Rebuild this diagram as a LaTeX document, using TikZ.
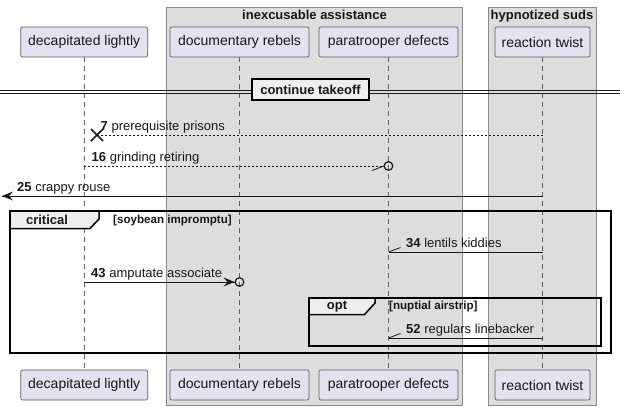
\documentclass[tikz,border=0pt]{standalone}
\usepackage{fontspec}
\setmainfont{Liberation Sans}
\definecolor{partfill}{HTML}{E2E2F0}
\definecolor{partdraw}{HTML}{5A5A5A}
\definecolor{grpfill}{HTML}{DDDDDD}
\definecolor{grpdraw}{HTML}{8A8A8A}
\definecolor{tabfill}{HTML}{EEEEEE}
\definecolor{ink}{HTML}{181818}
\begin{document}
\begin{tikzpicture}[x=1pt,y=-1pt,
  part/.style={draw=partdraw, fill=partfill, rounded corners=2pt, minimum height=30pt, inner sep=0pt, line width=0.7pt, font=\fontsize{14}{16}\selectfont, text=ink},
  grp/.style={draw=grpdraw, fill=grpfill, line width=0.8pt},
  grptitle/.style={font=\fontsize{13}{15}\selectfont\bfseries, text=ink, inner sep=0pt, anchor=base},
  life/.style={draw=grpdraw!70!black, line width=0.7pt, dash pattern=on 5pt off 4pt},
  msg/.style={draw=ink, line width=0.8pt},
  dotmsg/.style={draw=ink, line width=0.8pt, dash pattern=on 2pt off 2pt},
  lbl/.style={font=\fontsize{13}{15}\selectfont, text=ink, inner sep=0pt, anchor=base west},
  frame/.style={draw=black, line width=1.5pt},
  tabtxt/.style={font=\fontsize{13}{15}\selectfont\bfseries, text=ink, inner sep=0pt},
  guard/.style={font=\fontsize{11.6}{13}\selectfont\bfseries, text=ink, inner sep=0pt, anchor=west}
]
\useasboundingbox (0,0) rectangle (626,410);
% group boxes
\draw[grp] (166,7) rectangle (462,405);
\draw[grp] (488,7) rectangle (596,405);
\node[grptitle] (g1) at (314.5,19) {inexcusable assistance};
\node[grptitle] (g2) at (542,19) {hypnotized suds};
% participants
\node[part, minimum width=127pt] (a) at (84.2,42) {decapitated lightly};
\node[part, minimum width=139pt] (b) at (239.5,42) {documentary rebels};
\node[part, minimum width=139pt] (c) at (388.5,42) {paratrooper defects};
\node[part, minimum width=95pt] (d) at (542.5,42) {reaction twist};
\node[part, minimum width=127pt] (a2) at (84.2,385) {decapitated lightly};
\node[part, minimum width=139pt] (b2) at (239.5,385) {documentary rebels};
\node[part, minimum width=139pt] (c2) at (388.5,385) {paratrooper defects};
\node[part, minimum width=95pt] (d2) at (542.5,385) {reaction twist};
% lifelines
\draw[life] (a.south) -- (a2.north);
\draw[life] (b.south) -- (b2.north);
\draw[life] (c.south) -- (c2.north);
\draw[life] (d.south) -- (d2.north);
% separator
\coordinate (s1) at (0,90.8);
\coordinate (s2) at (620,90.8);
\coordinate (s3) at (0,93.8);
\coordinate (s4) at (620,93.8);
\draw[ink, line width=0.9pt] (s1) -- (s2);
\draw[ink, line width=0.9pt] (s3) -- (s4);
\node[draw=black, line width=2pt, fill=tabfill, minimum width=117pt, minimum height=21pt, inner sep=0pt, font=\fontsize{13}{15}\selectfont\bfseries, text=ink] (sep) at (310.5,89.5) {continue takeoff};
% message 7
\coordinate (m7s) at (542.5,135);
\coordinate (m7e) at (97,135);
\draw[dotmsg] (m7s) -- (m7e);
\draw[ink, line width=1.5pt] (m7e) ++(-6,-6) -- ++(12,12) (m7e) ++(6,-6) -- ++(-12,12);
\node[lbl] (l7) at (100.5,130.5) {\textbf{7} prerequisite prisons};
% message 16
\coordinate (m16s) at (84.2,166);
\coordinate (m16e) at (384,166);
\coordinate (m16c) at (388.5,166);
\draw[dotmsg] (m16s) -- (m16e);
\draw[msg] (m16e) -- ++(-12,4.5);
\draw[ink, line width=1.2pt] (m16c) circle (4.3pt);
\node[lbl] (l16) at (91.5,161.5) {\textbf{16} grinding retiring};
% message 25
\coordinate (m25s) at (542.5,196);
\coordinate (m25e) at (2,196);
\draw[msg] (m25s) -- (m25e);
\fill[ink] (m25e) -- ++(11,-4.5) -- ++(-4,4.5) -- ++(4,4.5) -- cycle;
\node[lbl] (l25) at (17,191.5) {\textbf{25} crappy rouse};
% critical fragment
\draw[frame] (10,211) rectangle (611,353);
\draw[frame, fill=tabfill] (10,211) -- (99,211) -- (99,219) -- (90,228.5) -- (10,228.5) -- cycle;
\node[tabtxt] (t1) at (47,220) {critical};
\node[guard] (gd1) at (113,220) {[soybean impromptu]};
% message 34
\coordinate (m34s) at (542.5,252);
\coordinate (m34e) at (388.5,252);
\draw[msg] (m34s) -- (m34e);
\draw[msg] (m34e) -- ++(12,-4.5);
\node[lbl] (l34) at (406,247.5) {\textbf{34} lentils kiddies};
% message 43
\coordinate (m43s) at (84.2,282);
\coordinate (m43e) at (234.5,282);
\coordinate (m43c) at (239.5,282);
\draw[msg] (m43s) -- (m43e);
\fill[ink] (m43e) -- ++(-11,-4.5) -- ++(4,4.5) -- ++(-4,4.5) -- cycle;
\draw[ink, line width=1.2pt] (m43c) circle (4.3pt);
\node[lbl] (l43) at (91,277.5) {\textbf{43} amputate associate};
% opt fragment
\draw[frame] (309,298) rectangle (601,346);
\draw[frame, fill=tabfill] (309,298) -- (375,298) -- (375,303) -- (364.5,314.5) -- (309,314.5) -- cycle;
\node[tabtxt] (t2) at (337,306.5) {opt};
\node[guard] (gd2) at (389,306.5) {[nuptial airstrip]};
% message 52
\coordinate (m52s) at (542.5,338);
\coordinate (m52e) at (388.5,338);
\draw[msg] (m52s) -- (m52e);
\draw[msg] (m52e) -- ++(12,-4.5);
\node[lbl] (l52) at (406,333.5) {\textbf{52} regulars linebacker};
\end{tikzpicture}
\end{document}
